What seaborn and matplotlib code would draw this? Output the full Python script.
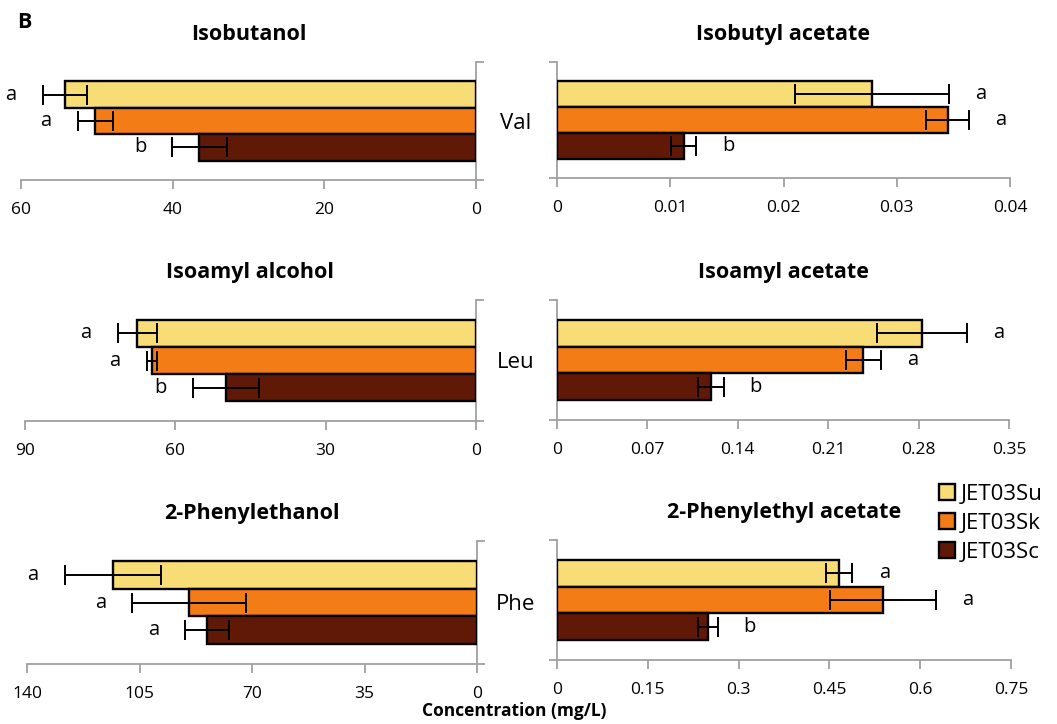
import numpy as np
import pandas as pd
import matplotlib
matplotlib.use('Agg')
import matplotlib.pyplot as plt
import seaborn as sns
from matplotlib.patches import Patch

# ---------------- data ----------------
strains = ['JET03Su', 'JET03Sk', 'JET03Sc']
amino_acids = ['Val', 'Leu', 'Phe']

alcohol_names = ['Isobutanol', 'Isoamyl alcohol', '2-Phenylethanol']
acetate_names = ['Isobutyl acetate', 'Isoamyl acetate', '2-Phenylethyl acetate']

isobutanol = [54.2, 50.2, 36.5]
isobutanol_err = [2.9, 2.3, 3.6]
isobutanol_sig = ['a', 'a', 'b']
isobutanol_ticks = [60, 40, 20, 0]

isobutyl_acetate = [0.0278, 0.0345, 0.0112]
isobutyl_acetate_err = [0.0068, 0.0019, 0.0011]
isobutyl_acetate_sig = ['a', 'a', 'b']
isobutyl_acetate_ticks = [0, 0.01, 0.02, 0.03, 0.04]

isoamyl_alcohol = [67.6, 64.7, 49.9]
isoamyl_alcohol_err = [3.9, 1.0, 6.6]
isoamyl_alcohol_sig = ['a', 'a', 'b']
isoamyl_alcohol_ticks = [90, 60, 30, 0]

isoamyl_acetate = [0.2826, 0.237, 0.119]
isoamyl_acetate_err = [0.035, 0.0135, 0.010]
isoamyl_acetate_sig = ['a', 'a', 'b']
isoamyl_acetate_ticks = [0, 0.07, 0.14, 0.21, 0.28, 0.35]

phenylethanol = [113.2, 89.6, 84.0]
phenylethanol_err = [15.0, 17.6, 6.8]
phenylethanol_sig = ['a', 'a', 'a']
phenylethanol_ticks = [140, 105, 70, 35, 0]

phenylethyl_acetate = [0.466, 0.5385, 0.2495]
phenylethyl_acetate_err = [0.022, 0.087, 0.016]
phenylethyl_acetate_sig = ['a', 'a', 'b']
phenylethyl_acetate_ticks = [0, 0.15, 0.3, 0.45, 0.6, 0.75]

colors = ['#F8DD76', '#F47C16', '#611907']
GREY = '#A0A0A0'

# ---------------- style ----------------
sns.set_theme(style='white')
plt.rcParams['font.family'] = ['Open Sans', 'DejaVu Sans']
plt.rcParams['text.color'] = 'black'

W, H = 1057, 724
fig = plt.figure(figsize=(W / 100, H / 100), dpi=100)


def px_axes(x0, x1, y0, y1):
    return fig.add_axes([x0 / W, 1 - y1 / H, (x1 - x0) / W, (y1 - y0) / H])


def draw(ax, title, means, errs, sig, ticks, side):
    df = pd.DataFrame({'strain': strains, 'value': means})
    sns.barplot(data=df, x='value', y='strain', hue='strain', order=strains,
                hue_order=strains, palette=colors, saturation=1, width=1.0,
                edgecolor='black', linewidth=1.7, errorbar=None, legend=False,
                ax=ax, zorder=3)
    ylo, yhi = 3.24, -1.24
    ax.set_ylim(ylo, yhi)
    xmax = max(ticks)
    if side == 'left':
        ax.set_xlim(xmax, 0)
    else:
        ax.set_xlim(0, xmax)
    # bar centres from the drawn patches
    patches = sorted(ax.patches, key=lambda p: p.get_y())
    centers = [p.get_y() + p.get_height() / 2 for p in patches]
    ax.errorbar(means, centers, xerr=errs, fmt='none', ecolor='black',
                elinewidth=1.4, capsize=7, capthick=1.4, zorder=5)
    off = -23 if side == 'left' else 23
    for m, e, c, s in zip(means, errs, centers, sig):
        ax.annotate(s, xy=(m + e, c), xytext=(off, 0), textcoords='offset points',
                    ha='center', va='center', fontsize=14.5)
    ax.set_xticks(ticks)
    ax.set_xticklabels([f'{t:g}' for t in ticks])
    ax.set_yticks([ylo, yhi])
    ax.set_yticklabels(['', ''])
    ax.set_ylim(ylo, yhi)
    ax.set_xlabel('')
    ax.set_ylabel('')
    for sp in ax.spines.values():
        sp.set_color(GREY)
        sp.set_linewidth(1.3)
    ax.spines['top'].set_visible(False)
    if side == 'left':
        ax.spines['left'].set_visible(False)
        ax.spines['right'].set_visible(True)
        ax.tick_params(axis='y', left=False, right=True, direction='out',
                       length=6, width=1.3, color=GREY)
    else:
        ax.spines['right'].set_visible(False)
        ax.spines['left'].set_visible(True)
        ax.tick_params(axis='y', left=True, right=False, direction='out',
                       length=6, width=1.3, color=GREY)
    ax.tick_params(axis='x', bottom=True, direction='out', length=6.5, width=1.3,
                   color=GREY, labelsize=12.5, labelcolor='black', pad=9)
    ax.annotate(title, xy=(0.5, 1), xycoords='axes fraction', xytext=(0, 16),
                textcoords='offset points', ha='center', va='baseline',
                fontsize=15.5, fontweight='bold')
    ax.set_facecolor('white')


# axes in pixel layout
ax_tl = px_axes(21, 476, 62, 180)
ax_tr = px_axes(557, 1010, 62, 178)
ax_ml = px_axes(25, 476, 300, 421)
ax_mr = px_axes(557, 1009, 300, 420)
ax_bl = px_axes(27, 477, 541, 664)
ax_br = px_axes(557, 1011, 540, 660)

draw(ax_tl, alcohol_names[0], isobutanol, isobutanol_err, isobutanol_sig, isobutanol_ticks, 'left')
draw(ax_tr, acetate_names[0], isobutyl_acetate, isobutyl_acetate_err, isobutyl_acetate_sig, isobutyl_acetate_ticks, 'right')
draw(ax_ml, alcohol_names[1], isoamyl_alcohol, isoamyl_alcohol_err, isoamyl_alcohol_sig, isoamyl_alcohol_ticks, 'left')
draw(ax_mr, acetate_names[1], isoamyl_acetate, isoamyl_acetate_err, isoamyl_acetate_sig, isoamyl_acetate_ticks, 'right')
draw(ax_bl, alcohol_names[2], phenylethanol, phenylethanol_err, phenylethanol_sig, phenylethanol_ticks, 'left')
draw(ax_br, acetate_names[2], phenylethyl_acetate, phenylethyl_acetate_err, phenylethyl_acetate_sig, phenylethyl_acetate_ticks, 'right')

# amino acid labels between the panels
for ax, aa in zip([ax_tl, ax_ml, ax_bl], amino_acids):
    pos = ax.get_position()
    fig.text(516 / W, pos.y0 + pos.height / 2 - 7.5 / H, aa, ha='center',
             va='baseline', fontsize=16)

# panel letter
fig.text(17 / W, 1 - 28 / H, 'B', ha='left', va='baseline', fontsize=15.5,
         fontweight='bold')

# common x label
fig.text(514 / W, 1 - 716 / H, 'Concentration (mg/L)', ha='center',
         va='baseline', fontsize=12.5, fontweight='bold')

# legend
handles = [Patch(facecolor=c, edgecolor='black', linewidth=1.7, label=s)
           for c, s in zip(colors, strains)]
fig.legend(handles=handles, loc='upper left', bbox_to_anchor=(939 / W, 1 - 484 / H),
           frameon=False, fontsize=16, handlelength=0.7, handleheight=0.7,
           handletextpad=0.3, labelspacing=0.36, borderpad=0, borderaxespad=0)

fig.savefig('out.png', dpi=100, facecolor='white')
